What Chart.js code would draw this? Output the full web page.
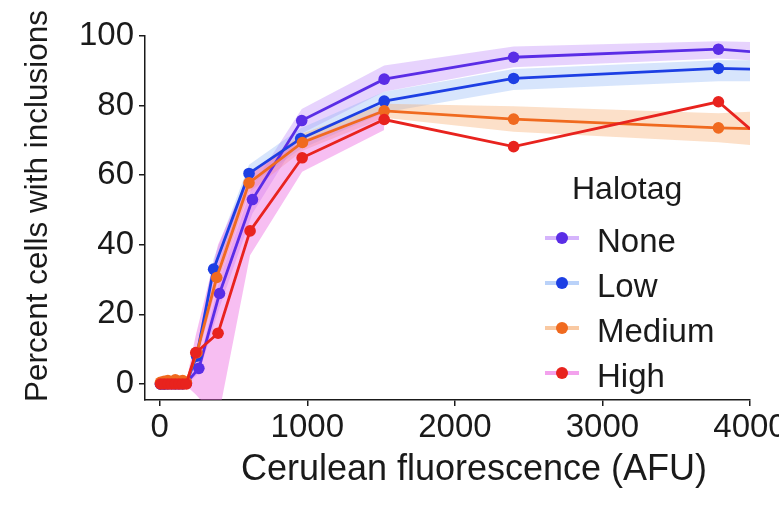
<!DOCTYPE html>
<html>
<head>
<meta charset="utf-8">
<script src="https://cdn.jsdelivr.net/npm/chart.js@4"></script>
<style>
  html, body { margin: 0; padding: 0; background: #fff; }
  #wrap { position: relative; width: 779px; height: 515px; }
  #legend { position: absolute; left: 0; top: 0; width: 779px; height: 515px; pointer-events: none;
            font-family: "Liberation Sans", Arial, sans-serif; color: #1a1a1a; }
  .lt { position: absolute; font-size: 33px; line-height: 1; white-space: nowrap; }
  .key { position: absolute; width: 34px; height: 12px; }
  .key .ln { position: absolute; left: 0; top: 4px; width: 34px; height: 4px; }
  .key .pt { position: absolute; left: 11px; top: 0; width: 12px; height: 12px; border-radius: 50%; }
  #xt { position: absolute; left: 474px; top: 450px; transform: translateX(-50%); font-size: 36px; }
  #yt { position: absolute; left: 37px; top: 206px; transform: translate(-50%, -50%) rotate(-90deg); font-size: 31.5px; }
</style>
</head>
<body>
<div id="wrap">
  <canvas id="c" width="779" height="515"></canvas>
  <div id="legend"></div>
</div>
<script>
// ---------- data ----------
const clusterX = [5, 30, 55, 80, 105, 130, 155, 180];

const noneX = clusterX.concat([265, 405, 628, 962, 1521, 2398, 3786, 4000]);
const noneY = [0, 0, 0.3, 0, 0.4, 0, 0.2, 0.3, 4.5, 26, 53, 75.7, 87.6, 93.9, 96.2, 95.5];
const noneLo = [-0.5, -0.5, -0.2, -0.5, -0.1, -0.5, -0.3, -0.2, 3, 22, 49, 72, 84, 91, 93.5, 93];
const noneHi = [0.5, 0.5, 0.8, 0.5, 0.9, 0.5, 0.7, 0.8, 6, 30, 57, 79, 91.5, 97, 98.5, 98.3];

const lowX = clusterX.concat([250, 365, 605, 955, 1521, 2398, 3786, 4000]);
const lowY = [0, 0, 0, 0.2, 0, 0.3, 0, 0.2, 8, 33, 60.5, 70.5, 81.3, 87.8, 90.7, 90.5];
const lowLo = [-0.5, -0.5, -0.5, -0.3, -0.5, -0.2, -0.5, -0.3, 6, 30, 57, 67.5, 78, 84.5, 87, 87];
const lowHi = [0.5, 0.5, 0.5, 0.7, 0.5, 0.8, 0.5, 0.7, 10, 36, 63, 73.5, 84, 90.5, 93, 93];

const medX = clusterX.concat([252, 386, 605, 967, 1521, 2398, 3786, 4000]);
const medY = [0.5, 0.8, 1, 0.6, 1.2, 0.8, 1, 0.5, 9, 30.6, 57.8, 69.4, 78.5, 76.1, 73.6, 73.4];
const medLo = [-0.1, 0.2, 0.4, 0, 0.6, 0.2, 0.4, -0.1, 7, 28, 55, 67, 76.5, 72.5, 69.5, 68.7];
const medHi = [1.1, 1.4, 1.6, 1.2, 1.8, 1.4, 1.6, 1.1, 11, 33, 60.5, 72, 80.5, 79.8, 77.8, 78.2];

const highX = clusterX.concat([244, 395, 612, 965, 1521, 2398, 3786, 4000]);
const highY = [0, 0, 0, 0, 0, 0, 0, 0, 9, 14.6, 44, 65, 76, 68.2, 81.1, 73.3];
const highBandX = clusterX.concat([244, 395, 612, 965, 1521]);
const highLo = [-0.5, -0.5, -0.5, -0.5, -0.5, -0.5, -0.5, -0.5, -3, -10, 37, 61, 73];
const highHi = [0.8, 0.8, 0.8, 0.8, 0.8, 0.8, 0.8, 0.8, 14, 40, 61, 70, 79];

const xTicks = [0, 1000, 2000, 3000, 4000];
const yTicks = [0, 20, 40, 60, 80, 100];

const xTitle = "Cerulean fluorescence (AFU)";
const yTitle = "Percent cells with inclusions";
const legendTitle = "Halotag";
const seriesNames = ["None", "Low", "Medium", "High"];
const lineColors = ["#5a2de6", "#1d3fe4", "#f06a1f", "#e8231e"];
const bandColors = ["rgba(185,130,250,0.35)", "rgba(140,180,245,0.35)", "rgba(245,165,100,0.35)", "rgba(235,100,225,0.42)"];

// ---------- build ----------
function pts(xs, ys) { return xs.map((x, i) => ({ x: x, y: ys[i] })); }

const seriesData = [
  { x: noneX, y: noneY, lo: noneLo, hi: noneHi, bx: noneX },
  { x: lowX, y: lowY, lo: lowLo, hi: lowHi, bx: lowX },
  { x: medX, y: medY, lo: medLo, hi: medHi, bx: medX },
  { x: highX, y: highY, lo: highLo, hi: highHi, bx: highBandX }
];

const datasets = [];
seriesData.forEach((s, k) => {
  datasets.push({ label: seriesNames[k] + " upper", data: pts(s.bx, s.hi), borderWidth: 0, pointRadius: 0,
                  fill: false, order: 20 - k, borderColor: "rgba(0,0,0,0)" });
  datasets.push({ label: seriesNames[k] + " lower", data: pts(s.bx, s.lo), borderWidth: 0, pointRadius: 0,
                  fill: "-1", backgroundColor: bandColors[k], order: 20 - k, borderColor: "rgba(0,0,0,0)" });
});
seriesData.forEach((s, k) => {
  const n = s.x.length;
  datasets.push({ label: seriesNames[k], data: pts(s.x, s.y), borderColor: lineColors[k], backgroundColor: lineColors[k],
                  borderWidth: 2.8, fill: false, order: 5 - k,
                  pointRadius: s.x.map((v, i) => (i === n - 1 ? 0 : 5.8)), pointBorderWidth: 0,
                  pointBackgroundColor: lineColors[k] });
});

const FONT = "'Liberation Sans', Arial, sans-serif";

new Chart(document.getElementById("c"), {
  type: "line",
  data: { datasets: datasets },
  options: {
    responsive: false, animation: false, devicePixelRatio: 1,
    layout: { padding: { left: 0, right: 29, top: 36, bottom: 0 } },
    plugins: { legend: { display: false }, tooltip: { enabled: false } },
    elements: { line: { tension: 0 } },
    scales: {
      x: {
        type: "linear", min: -100, max: 4000,
        afterBuildTicks: (s) => { s.ticks = xTicks.map(v => ({ value: v })); },
        afterFit: (s) => { s.height = 115; s.paddingLeft = 0; s.paddingRight = 0; },
        grid: { drawOnChartArea: false, drawTicks: true, tickLength: 6, color: "#1a1a1a", lineWidth: 1.5 },
        border: { display: true, color: "#1a1a1a", width: 1.5 },
        ticks: { color: "#1a1a1a", font: { family: FONT, size: 33 }, padding: 2, maxRotation: 0, autoSkip: false,
                 callback: (v) => String(v) },
        title: { display: false, text: xTitle }
      },
      y: {
        type: "linear", min: -4.6, max: 100,
        afterBuildTicks: (s) => { s.ticks = yTicks.map(v => ({ value: v })); },
        afterFit: (s) => { s.width = 145; s.paddingTop = 0; s.paddingBottom = 0; },
        grid: { drawOnChartArea: false, drawTicks: true, tickLength: 6, color: "#1a1a1a", lineWidth: 1.5 },
        border: { display: true, color: "#1a1a1a", width: 1.5 },
        ticks: { color: "#1a1a1a", font: { family: FONT, size: 33 }, padding: 5, autoSkip: false,
                 callback: (v) => String(v) },
        title: { display: false, text: yTitle }
      }
    }
  }
});

// ---------- axis titles and legend (HTML text) ----------
const lg = document.getElementById("legend");
const xt = document.createElement("div"); xt.id = "xt"; xt.className = "lt"; xt.textContent = xTitle; lg.appendChild(xt);
const yt = document.createElement("div"); yt.id = "yt"; yt.className = "lt"; yt.textContent = yTitle; lg.appendChild(yt);

const title = document.createElement("div");
title.className = "lt"; title.textContent = legendTitle;
title.style.fontSize = "32px";
title.style.left = "572px"; title.style.top = "172px";
lg.appendChild(title);
seriesNames.forEach((name, k) => {
  const cy = 238 + k * 45;
  const key = document.createElement("div"); key.className = "key";
  key.style.left = "545px"; key.style.top = (cy - 6) + "px";
  const ln = document.createElement("div"); ln.className = "ln"; ln.style.background = bandColors[k].replace(/0\.\d+\)$/, "0.6)");
  const pt = document.createElement("div"); pt.className = "pt"; pt.style.background = lineColors[k];
  key.appendChild(ln); key.appendChild(pt); lg.appendChild(key);
  const t = document.createElement("div"); t.className = "lt"; t.textContent = name;
  t.style.left = "597px"; t.style.top = (cy - 14) + "px";
  lg.appendChild(t);
});
</script>
</body>
</html>
